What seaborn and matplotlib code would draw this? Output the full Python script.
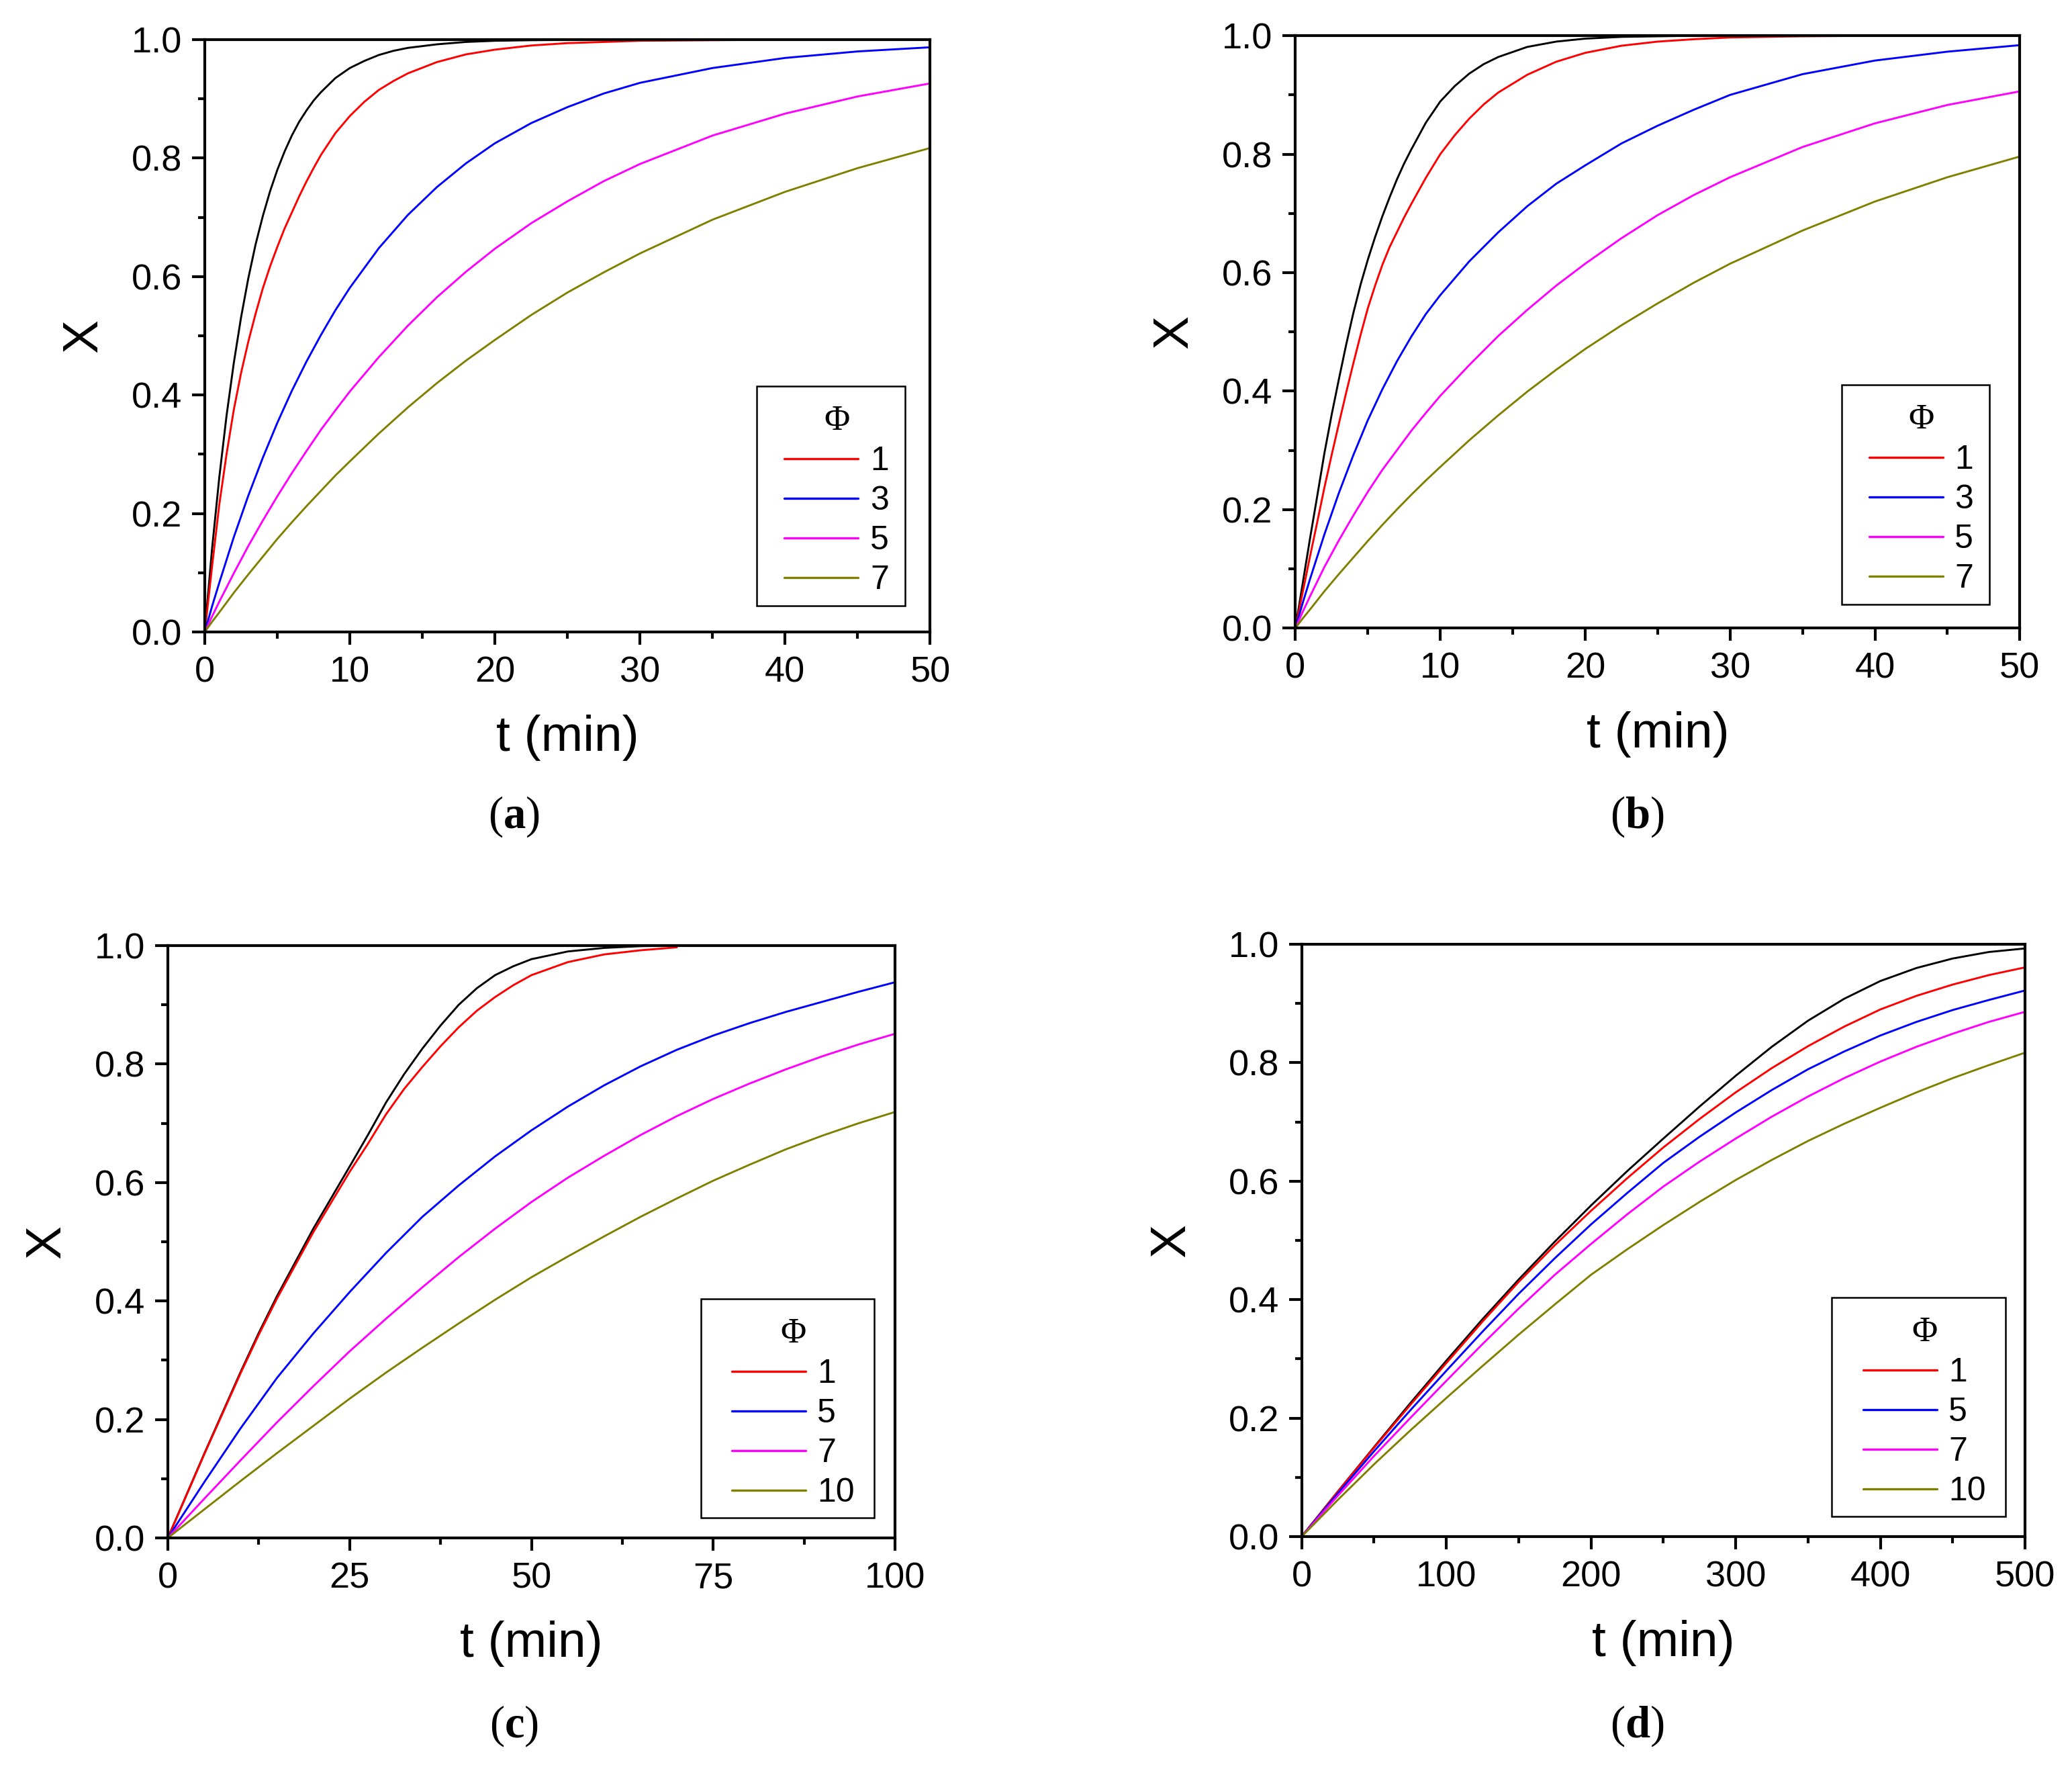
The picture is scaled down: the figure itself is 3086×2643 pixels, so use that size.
import numpy as np
import pandas as pd
import matplotlib
matplotlib.use("Agg")
import matplotlib.pyplot as plt
import seaborn as sns
from matplotlib.ticker import MultipleLocator
from matplotlib.patches import Rectangle
from matplotlib.font_manager import FontProperties

# ---------------- data ----------------
# fine time grid for the fast curves of panels (a) and (b)
T_AB_FINE = [0, 0.5, 1, 1.5, 2, 2.5, 3, 3.5, 4, 4.5, 5, 5.5, 6, 6.5, 7, 7.5, 8,
             9, 10, 11, 12, 13, 14, 16, 18, 20, 22.5, 25, 27.5, 30, 35, 40, 45, 50]
T_AB = [0, 0.5, 1, 2, 3, 4, 5, 6, 7, 8, 9, 10, 12, 14, 16, 18, 20, 22.5, 25, 27.5, 30, 35, 40, 45, 50]

A_BLACK = [0, 0.14, 0.261, 0.365, 0.454, 0.531, 0.597, 0.654, 0.702, 0.744, 0.780, 0.811, 0.838, 0.861, 0.880, 0.897, 0.911,
           0.935, 0.952, 0.964, 0.974, 0.981, 0.986, 0.992, 0.996, 0.998, 0.999, 0.9995, 1.0, 1.0, 1.0, 1.0, 1.0, 1.0]
A_PHI1 = [0, 0.11, 0.215, 0.30, 0.375, 0.437, 0.49, 0.537, 0.58, 0.617, 0.65, 0.681, 0.708, 0.735, 0.76, 0.783, 0.805,
          0.842, 0.871, 0.895, 0.915, 0.930, 0.943, 0.962, 0.975, 0.983, 0.990, 0.994, 0.996, 0.998, 0.999, 1.0, 1.0, 1.0]
A_PHI3 = [0, 0.043, 0.083, 0.160, 0.230, 0.294, 0.353, 0.407, 0.456, 0.501, 0.543, 0.581, 0.648, 0.704, 0.751, 0.791, 0.825, 0.859, 0.886, 0.909, 0.927, 0.952, 0.969, 0.980, 0.987]
A_PHI5 = [0, 0.026, 0.051, 0.099, 0.145, 0.188, 0.229, 0.268, 0.305, 0.341, 0.374, 0.406, 0.464, 0.517, 0.565, 0.608, 0.647, 0.690, 0.727, 0.761, 0.790, 0.838, 0.875, 0.904, 0.926]
A_PHI7 = [0, 0.017, 0.033, 0.066, 0.097, 0.127, 0.157, 0.185, 0.212, 0.238, 0.264, 0.288, 0.335, 0.379, 0.420, 0.458, 0.493, 0.535, 0.573, 0.607, 0.639, 0.696, 0.743, 0.783, 0.817]

B_BLACK = [0, 0.075, 0.15, 0.222, 0.295, 0.36, 0.42, 0.478, 0.532, 0.58, 0.622, 0.66, 0.695, 0.727, 0.757, 0.784, 0.808,
           0.853, 0.889, 0.915, 0.936, 0.952, 0.964, 0.981, 0.990, 0.995, 0.998, 0.999, 1.0, 1.0, 1.0, 1.0, 1.0, 1.0]
B_PHI1 = [0, 0.06, 0.12, 0.178, 0.237, 0.292, 0.345, 0.397, 0.447, 0.495, 0.54, 0.578, 0.613, 0.643, 0.668, 0.693, 0.716,
          0.76, 0.8, 0.832, 0.86, 0.884, 0.904, 0.934, 0.956, 0.971, 0.983, 0.990, 0.994, 0.997, 0.999, 1.0, 1.0, 1.0]
B_PHI3 = [0, 0.042, 0.082, 0.158, 0.228, 0.292, 0.351, 0.403, 0.45, 0.492, 0.53, 0.562, 0.619, 0.668, 0.712, 0.75, 0.781, 0.818, 0.848, 0.875, 0.9, 0.935, 0.958, 0.973, 0.984]
B_PHI5 = [0, 0.027, 0.053, 0.103, 0.148, 0.19, 0.23, 0.267, 0.30, 0.333, 0.363, 0.392, 0.444, 0.493, 0.537, 0.578, 0.615, 0.658, 0.697, 0.731, 0.761, 0.812, 0.852, 0.883, 0.906]
B_PHI7 = [0, 0.016, 0.031, 0.062, 0.091, 0.119, 0.147, 0.174, 0.2, 0.225, 0.249, 0.272, 0.317, 0.359, 0.399, 0.436, 0.471, 0.511, 0.548, 0.583, 0.615, 0.671, 0.72, 0.761, 0.796]

T_C = [0, 5, 10, 15, 20, 25, 30, 35, 40, 45, 50, 55, 60, 65, 70, 75, 80, 85, 90, 95, 100]
T_C_FINE = [0, 5, 10, 12.5, 15, 20, 25, 27.5, 30, 32.5, 35, 37.5, 40, 42.5, 45, 47.5, 50, 55, 60, 65, 70]
C_BLACK = [0, 0.142, 0.28, 0.346, 0.408, 0.522, 0.627, 0.68, 0.735, 0.783, 0.826, 0.865, 0.9, 0.928, 0.95, 0.965, 0.977, 0.99, 0.996, 0.999, 1.0]
C_PHI1 = [0, 0.141, 0.278, 0.343, 0.404, 0.516, 0.618, 0.665, 0.715, 0.758, 0.795, 0.83, 0.862, 0.89, 0.913, 0.933, 0.95, 0.972, 0.985, 0.992, 0.997]
C_PHI5 = [0, 0.094, 0.185, 0.27, 0.345, 0.415, 0.481, 0.542, 0.595, 0.644, 0.688, 0.728, 0.764, 0.796, 0.824, 0.848, 0.869, 0.888, 0.905, 0.922, 0.938]
C_PHI7 = [0, 0.066, 0.131, 0.195, 0.256, 0.315, 0.37, 0.423, 0.474, 0.522, 0.567, 0.608, 0.645, 0.68, 0.712, 0.741, 0.767, 0.791, 0.813, 0.833, 0.851]
C_PHI10 = [0, 0.048, 0.096, 0.143, 0.189, 0.235, 0.279, 0.321, 0.362, 0.402, 0.44, 0.475, 0.509, 0.542, 0.573, 0.603, 0.630, 0.656, 0.679, 0.700, 0.719]

T_D = [0, 25, 50, 75, 100, 125, 150, 175, 200, 225, 250, 275, 300, 325, 350, 375, 400, 425, 450, 475, 500]
D_BLACK = [0, 0.076, 0.151, 0.225, 0.297, 0.367, 0.434, 0.498, 0.559, 0.617, 0.672, 0.726, 0.778, 0.827, 0.871, 0.908, 0.938, 0.96, 0.976, 0.987, 0.993]
D_PHI1 = [0, 0.076, 0.15, 0.222, 0.293, 0.363, 0.43, 0.492, 0.55, 0.605, 0.657, 0.705, 0.75, 0.791, 0.828, 0.861, 0.89, 0.913, 0.932, 0.948, 0.961]
D_PHI5 = [0, 0.073, 0.144, 0.213, 0.28, 0.346, 0.41, 0.47, 0.527, 0.58, 0.631, 0.675, 0.716, 0.754, 0.789, 0.819, 0.846, 0.869, 0.889, 0.906, 0.922]
D_PHI7 = [0, 0.069, 0.136, 0.2, 0.263, 0.325, 0.385, 0.442, 0.494, 0.544, 0.591, 0.633, 0.672, 0.709, 0.743, 0.774, 0.802, 0.827, 0.849, 0.869, 0.886]
D_PHI10 = [0, 0.062, 0.122, 0.179, 0.234, 0.288, 0.341, 0.392, 0.442, 0.485, 0.526, 0.565, 0.602, 0.636, 0.668, 0.697, 0.724, 0.75, 0.774, 0.796, 0.817]

LEG_AB = ["1", "3", "5", "7"]
LEG_CD = ["1", "5", "7", "10"]
PANEL_LABELS = ["a", "b", "c", "d"]
X_LABEL = "t (min)"
Y_LABEL = "X"
LEGEND_TITLE = "Φ"

COLORS = ["#000000", "#FF0000", "#0000FF", "#FF00FF", "#808000"]

# ---------------- style ----------------
sns.set_theme(style="ticks")
plt.rcParams["font.family"] = ["Liberation Sans", "DejaVu Sans"]
plt.rcParams["mathtext.fontset"] = "custom"
plt.rcParams["mathtext.rm"] = "Liberation Serif"
plt.rcParams["mathtext.bf"] = "Liberation Serif:bold"
plt.rcParams["axes.edgecolor"] = "black"
plt.rcParams["text.color"] = "black"
plt.rcParams["axes.labelcolor"] = "black"
plt.rcParams["xtick.color"] = "black"
plt.rcParams["ytick.color"] = "black"

W, H = 3087, 2643
fig = plt.figure(figsize=(W / 300, H / 300), dpi=300)

panels = [
    dict(rect=(0.0988, 0.644, 0.350, 0.3337), xlim=50, major=10, minor=5,
         series=[(T_AB_FINE, A_BLACK), (T_AB_FINE, A_PHI1), (T_AB, A_PHI3), (T_AB, A_PHI5), (T_AB, A_PHI7)],
         leg=LEG_AB, lab=(0.248, 0.540), frame=(0.761, 0.0446, 0.965, 0.415), ylx=-0.135),
    dict(rect=(0.625, 0.6462, 0.3495, 0.3337), xlim=50, major=10, minor=5,
         series=[(T_AB_FINE, B_BLACK), (T_AB_FINE, B_PHI1), (T_AB, B_PHI3), (T_AB, B_PHI5), (T_AB, B_PHI7)],
         leg=LEG_AB, lab=(0.790, 0.540), frame=(0.754, 0.040, 0.958, 0.411), ylx=-0.135),
    dict(rect=(0.081, 0.1336, 0.3508, 0.3337), xlim=100, major=25, minor=12.5,
         series=[(T_C_FINE, C_BLACK), (T_C_FINE, C_PHI1), (T_C, C_PHI5), (T_C, C_PHI7), (T_C, C_PHI10)],
         leg=LEG_CD, lab=(0.248, 0.0277), frame=(0.733, 0.0335, 0.971, 0.404), ylx=-0.135),
    dict(rect=(0.628, 0.1343, 0.349, 0.3337), xlim=500, major=100, minor=50,
         series=[(T_D, D_BLACK), (T_D, D_PHI1), (T_D, D_PHI5), (T_D, D_PHI7), (T_D, D_PHI10)],
         leg=LEG_CD, lab=(0.790, 0.0277), frame=(0.733, 0.0335, 0.973, 0.404), ylx=-0.148),
]

for p, plabel in zip(panels, PANEL_LABELS):
    ax = fig.add_axes(p["rect"])
    names = ["ref"] + p["leg"]
    frames = []
    for name, (tt, xx) in zip(names, p["series"]):
        frames.append(pd.DataFrame({"t": tt, "X": xx, "series": name}))
    df = pd.concat(frames, ignore_index=True)
    pal = dict(zip(names, COLORS))
    sns.lineplot(data=df, x="t", y="X", hue="series", hue_order=names, palette=pal,
                 estimator=None, errorbar=None, legend=False, linewidth=0.7, ax=ax)
    ax.set_xlim(0, p["xlim"])
    ax.set_ylim(0, 1.0)
    ax.xaxis.set_major_locator(MultipleLocator(p["major"]))
    ax.xaxis.set_minor_locator(MultipleLocator(p["minor"]))
    ax.yaxis.set_major_locator(MultipleLocator(0.2))
    ax.yaxis.set_minor_locator(MultipleLocator(0.1))
    for s in ax.spines.values():
        s.set_visible(True)
        s.set_linewidth(1.0)
        s.set_color("black")
    ax.tick_params(which="both", direction="out", top=False, right=False, width=1.0, labelsize=13)
    ax.tick_params(which="major", length=4.6)
    ax.tick_params(which="minor", length=2.5)
    ax.tick_params(axis="x", which="major", pad=4)
    ax.tick_params(axis="y", which="major", pad=3.5)
    ax.set_xlabel(X_LABEL, fontsize=18)
    ax.set_ylabel(Y_LABEL, fontsize=18)
    ax.xaxis.set_label_coords(0.5, -0.14)
    ax.yaxis.set_label_coords(p["ylx"], 0.5)

    lines = ax.get_lines()
    handles = lines[1:5]
    x0, y0, x1, y1 = p["frame"]
    leg = ax.legend(handles, p["leg"], loc="center",
                    bbox_to_anchor=((x0 + x1) / 2 + 0.008, (y0 + y1) / 2 - 0.008),
                    frameon=False, title=LEGEND_TITLE,
                    title_fontproperties=FontProperties(family="Liberation Serif", size=12.5),
                    prop=FontProperties(family="Liberation Sans", size=12),
                    handlelength=2.2, handletextpad=0.35, labelspacing=0.26,
                    borderpad=0, borderaxespad=0)
    for lh in leg.get_lines():
        lh.set_linewidth(0.8)
    ax.add_patch(Rectangle((x0, y0), x1 - x0, y1 - y0, transform=ax.transAxes,
                           fill=False, lw=0.6, ec="black", zorder=6, clip_on=False))

    fig.text(p["lab"][0], p["lab"][1], "(" + r"$\mathbf{" + plabel + "}$" + ")",
             ha="center", va="center", fontsize=16, family="Liberation Serif")

fig.savefig("out.png", dpi=300)
